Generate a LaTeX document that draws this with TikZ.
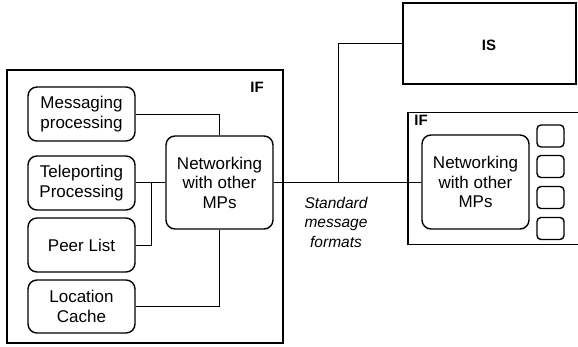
\documentclass[tikz,border=0pt]{standalone}
\usepackage{fontspec}
\setmainfont{Liberation Sans}
\begin{document}
\begin{tikzpicture}[x=1pt,y=-1pt,
  every node/.style={font=\fontsize{17}{19.5}\selectfont},
  rbox/.style={draw,line width=1.4pt,rounded corners=9pt,align=center,inner sep=0pt},
  sq/.style={draw,line width=1.4pt,rounded corners=4pt,inner sep=0pt},
  frame/.style={draw,line width=1.4pt,inner sep=0pt},
  conn/.style={line width=1pt},
  lbl/.style={font=\fontsize{15}{16}\selectfont\bfseries}]
\useasboundingbox (0,0) rectangle (578,346);
\clip (0,0) rectangle (578,346);
% left IF frame
\node[frame,minimum width=276pt,minimum height=273pt] (ifL) at (145,206.5) {};
\node[lbl] (ifLlbl) at (257,87) {IF};
\node[rbox,minimum width=107pt,minimum height=54pt] (msg) at (81.5,114) {Messaging\\processing};
\node[rbox,minimum width=107pt,minimum height=54pt] (tel) at (81.5,183) {Teleporting\\Processing};
\node[rbox,minimum width=107pt,minimum height=54pt] (peer) at (81.5,245) {Peer List};
\node[rbox,minimum width=107pt,minimum height=53pt] (loc) at (81.5,306.5) {Location\\Cache};
\node[rbox,minimum width=107pt,minimum height=93pt] (netL) at (219.5,182.5) {Networking\\with other\\MPs};
% IS box
\node[frame,minimum width=173pt,minimum height=81pt] (is) at (489.5,43.5) {};
\node[lbl] (islbl) at (489,45) {IS};
% right IF frame
\node[frame,minimum width=200pt,minimum height=132pt] (ifR) at (508,178.5) {};
\node[lbl] (ifRlbl) at (421,120) {IF};
\node[rbox,minimum width=107pt,minimum height=94pt] (netR) at (475.5,182) {Networking\\with other\\MPs};
\node[sq,minimum width=27pt,minimum height=22pt] (s1) at (550.5,136) {};
\node[sq,minimum width=27pt,minimum height=22pt] (s2) at (550.5,166.5) {};
\node[sq,minimum width=27pt,minimum height=22pt] (s3) at (550.5,197.5) {};
\node[sq,minimum width=27pt,minimum height=22pt] (s4) at (550.5,228.5) {};
% label
\node[align=center,font=\fontsize{15.5}{19.5}\selectfont\itshape] (std) at (336,222) {Standard\\message\\formats};
% connectors
\coordinate (j) at (338,183);
\draw[conn] (msg.east) -| (netL.north);
\draw[conn] (tel.east |- netL.west) -- (netL.west);
\draw[conn] (peer.east) -| (151,183);
\draw[conn] (loc.east) -| (netL.south);
\draw[conn] (netL.east) -- (ifL.east |- netL.east);
\draw[conn] (ifL.east |- netL.east) -- (netR.west |- netL.east);
\draw[conn] (j |- netL.east) |- (is.west);
\end{tikzpicture}
\end{document}
